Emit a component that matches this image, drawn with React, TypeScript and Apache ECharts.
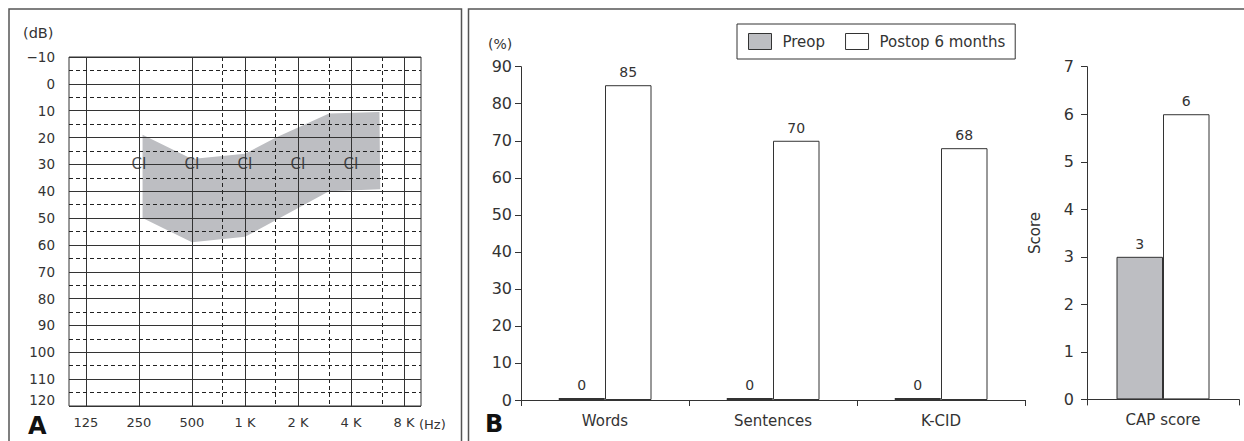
import React, { useEffect, useRef } from 'react';
import * as echarts from 'echarts';

const FONT = '"DejaVu Sans", sans-serif';
const TXT = '#333';
const LINE = '#333';
const GRAY = '#bdbec2';

// Panel A: audiogram
const freqTickHz = [125, 250, 500, 1000, 2000, 4000, 8000];
const freqTickLabels = ['125', '250', '500', '1 K', '2 K', '4 K', '8 K'];
const freqDashedHz = [750, 1500, 3000, 6000];
const dbSolid = [-10, 0, 10, 20, 30, 40, 50, 60, 70, 80, 90, 100, 110, 120];
const dbDashed = [-5, 5, 15, 25, 35, 45, 55, 65, 75, 85, 95, 105, 115];
const ciHz = [250, 500, 1000, 2000, 4000];
const ciDb = [30, 30, 30, 30, 30];
const areaHz = [262, 500, 1000, 1500, 3000, 5800, 5860, 3000, 1000, 500, 262];
const areaDb = [19, 28, 26, 20, 11, 10.5, 39.3, 40, 57, 59, 50];

// Panel B: speech tests
const speechCategories = ['Words', 'Sentences', 'K-CID'];
const speechPreop = [0, 0, 0];
const speechPostop = [85, 70, 68];
const capCategories = ['CAP score'];
const capPreop = [3];
const capPostop = [6];

const lg = (f: number) => Math.log2(f / 125);

export default function App() {
  const ref = useRef<HTMLDivElement>(null);
  useEffect(() => {
    const chart = echarts.init(ref.current!, null, { renderer: 'svg' });
    const solidStyle = { type: 'solid', color: LINE, width: 1 };
    const dashStyle = { type: [4, 3], color: '#222', width: 1 };
    const barLabel = { show: true, position: 'top', distance: 6, fontSize: 14, color: TXT, fontFamily: FONT };
    const preopStyle = { color: GRAY, borderColor: LINE, borderWidth: 1 };
    const postopStyle = { color: '#fff', borderColor: LINE, borderWidth: 1 };
    const option: any = {
      animation: false,
      backgroundColor: '#fff',
      textStyle: { fontFamily: FONT, color: TXT },
      grid: [
        { left: 69, top: 57, width: 352, height: 349, show: true, borderColor: LINE, borderWidth: 1, backgroundColor: 'transparent', outerBoundsMode: 'none' },
        { left: 521, top: 66.7, width: 504, height: 333.3, outerBoundsMode: 'none' },
        { left: 1087, top: 66.7, width: 152, height: 332.7, outerBoundsMode: 'none' },
      ],
      xAxis: [
        {
          gridIndex: 0, type: 'value', min: -0.32, max: 6.32,
          axisLine: { show: false }, axisTick: { show: false }, splitLine: { show: false },
          axisLabel: {
            customValues: freqTickHz.map(lg),
            formatter: (v: number) => freqTickLabels[Math.round(v)],
            margin: 10, fontSize: 13, color: TXT, fontFamily: FONT,
          },
        },
        {
          gridIndex: 1, type: 'category', data: speechCategories,
          axisLine: { show: true, lineStyle: { color: LINE, width: 1 } },
          axisTick: { show: true, length: 6, lineStyle: { color: LINE } },
          axisLabel: { fontSize: 15, margin: 13, color: TXT, fontFamily: FONT },
        },
        {
          gridIndex: 2, type: 'category', data: capCategories,
          axisLine: { show: true, lineStyle: { color: LINE, width: 1 } },
          axisTick: { show: true, length: 6, lineStyle: { color: LINE } },
          axisLabel: { fontSize: 15, margin: 13, color: TXT, fontFamily: FONT },
        },
      ],
      yAxis: [
        {
          gridIndex: 0, type: 'value', inverse: true, min: -10, max: 120, interval: 10,
          axisLine: { show: false }, axisTick: { show: false }, splitLine: { show: false },
          axisLabel: {
            formatter: (v: number) => (v < 0 ? '\u2212' + Math.abs(v) : String(v)),
            margin: 14, fontSize: 13.5, lineHeight: 12, color: TXT, fontFamily: FONT,
            verticalAlignMaxLabel: 'bottom',
          },
        },
        {
          gridIndex: 1, type: 'value', min: 0, max: 90, interval: 10,
          axisLine: { show: true, lineStyle: { color: LINE, width: 1 } },
          axisTick: { show: true, length: 6, lineStyle: { color: LINE } },
          splitLine: { show: false },
          axisLabel: { margin: 9, fontSize: 16, color: TXT, fontFamily: FONT },
        },
        {
          gridIndex: 2, type: 'value', min: 0, max: 7, interval: 1,
          name: 'Score', nameLocation: 'middle', nameGap: 45, nameRotate: 90,
          nameTextStyle: { fontSize: 15, color: TXT, fontFamily: FONT },
          axisLine: { show: true, lineStyle: { color: LINE, width: 1 } },
          axisTick: { show: true, length: 6, lineStyle: { color: LINE } },
          splitLine: { show: false },
          axisLabel: { margin: 13, fontSize: 16, color: TXT, fontFamily: FONT },
        },
      ],
      legend: {
        data: ['Preop', 'Postop 6 months'],
        left: 737, top: 24,
        padding: [9, 10, 9, 11],
        itemWidth: 23, itemHeight: 16, itemGap: 20,
        icon: 'rect',
        borderColor: LINE, borderWidth: 1,
        itemStyle: { borderColor: LINE, borderWidth: 1 },
        textStyle: { fontSize: 15, color: TXT, fontFamily: FONT, padding: [0, 0, 0, 6] },
        selectedMode: false,
      },
      series: [
        {
          type: 'custom',
          xAxisIndex: 0, yAxisIndex: 0,
          silent: true, z: 1,
          data: [[lg(areaHz[0]), areaDb[0]]],
          renderItem: (_params: any, api: any) => ({
            type: 'polygon',
            shape: { points: areaHz.map((f, i) => api.coord([lg(f), areaDb[i]])) },
            style: { fill: GRAY, stroke: 'none' },
          }),
        },
        {
          type: 'scatter',
          xAxisIndex: 0, yAxisIndex: 0,
          z: 3, silent: true,
          symbol: 'circle', symbolSize: 1,
          itemStyle: { color: 'transparent' },
          data: ciHz.map((f, i) => [lg(f), ciDb[i]]),
          label: { show: true, position: 'inside', formatter: 'CI', fontSize: 15, color: '#222', fontFamily: FONT },
          markLine: {
            silent: true,
            symbol: ['none', 'none'],
            label: { show: false },
            emphasis: { disabled: true },
            data: [
              ...freqTickHz.map((f) => ({ xAxis: lg(f), lineStyle: solidStyle })),
              ...freqDashedHz.map((f) => ({ xAxis: lg(f), lineStyle: dashStyle })),
              ...dbSolid.map((d) => ({ yAxis: d, lineStyle: solidStyle })),
              ...dbDashed.map((d) => ({ yAxis: d, lineStyle: dashStyle })),
            ],
          },
        },
        {
          name: 'Preop', type: 'bar', xAxisIndex: 1, yAxisIndex: 1,
          data: speechPreop, barWidth: 46.5, barGap: '0%', barMinHeight: 2,
          itemStyle: preopStyle, label: barLabel,
        },
        {
          name: 'Postop 6 months', type: 'bar', xAxisIndex: 1, yAxisIndex: 1,
          data: speechPostop, barWidth: 46.5, barGap: '0%',
          itemStyle: postopStyle, label: barLabel,
        },
        {
          name: 'Preop', type: 'bar', xAxisIndex: 2, yAxisIndex: 2,
          data: capPreop, barWidth: 46.5, barGap: '0%',
          itemStyle: preopStyle, label: barLabel,
        },
        {
          name: 'Postop 6 months', type: 'bar', xAxisIndex: 2, yAxisIndex: 2,
          data: capPostop, barWidth: 46.5, barGap: '0%',
          itemStyle: postopStyle, label: barLabel,
        },
      ],
      graphic: [
        { type: 'rect', silent: true, shape: { x: 9, y: 9, width: 452.5, height: 500 }, style: { fill: 'none', stroke: '#555', lineWidth: 1.5 } },
        { type: 'rect', silent: true, shape: { x: 468.5, y: 9, width: 800, height: 500 }, style: { fill: 'none', stroke: '#555', lineWidth: 1.5 } },
        { type: 'text', silent: true, x: 23, y: 33, style: { text: '(dB)', fontSize: 14.5, fill: TXT, fontFamily: FONT, verticalAlign: 'middle', align: 'left' } },
        { type: 'text', silent: true, x: 419, y: 424, style: { text: '(Hz)', fontSize: 13, fill: TXT, fontFamily: FONT, verticalAlign: 'middle', align: 'left' } },
        { type: 'text', silent: true, x: 28, y: 426, style: { text: 'A', fontSize: 24, fontWeight: 'bold', fill: '#111', fontFamily: FONT, verticalAlign: 'middle', align: 'left' } },
        { type: 'text', silent: true, x: 488, y: 44, style: { text: '(%)', fontSize: 14, fill: TXT, fontFamily: FONT, verticalAlign: 'middle', align: 'left' } },
        { type: 'text', silent: true, x: 485, y: 424, style: { text: 'B', fontSize: 24, fontWeight: 'bold', fill: '#111', fontFamily: FONT, verticalAlign: 'middle', align: 'left' } },
      ],
    };
    chart.setOption(option);
    return () => chart.dispose();
  }, []);
  return (
    <div
      ref={ref}
      style={{ position: 'absolute', left: 0, top: 0, width: 1244, height: 441, background: '#fff' }}
    />
  );
}
